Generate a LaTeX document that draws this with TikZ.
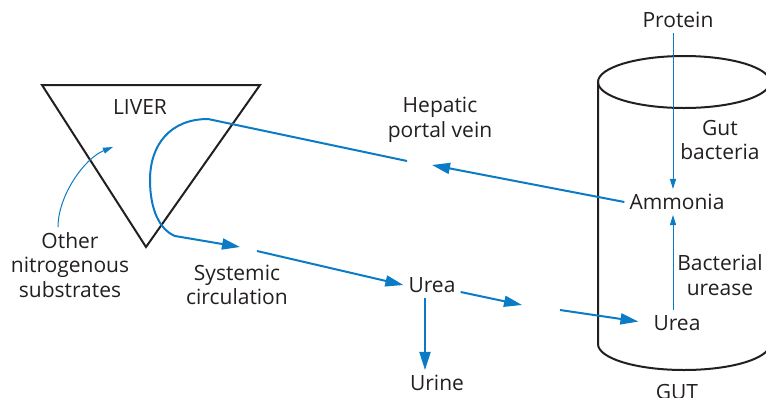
\documentclass[tikz,border=0pt]{standalone}
\usepackage{fontspec}
\setmainfont{Open Sans}
\usetikzlibrary{arrows.meta}
\definecolor{ink}{HTML}{231F20}
\definecolor{flowblue}{HTML}{0A7BC4}
\tikzset{
  txt/.style={font=\fontsize{21}{24.5}\selectfont, text=ink, align=center, inner sep=5pt},
  organ/.style={draw=ink, line width=2pt},
  flow/.style={draw=flowblue, line width=2pt},
  flowarrow/.style={flow, -{Triangle[length=18pt,width=11pt]}},
  thinarrow/.style={draw=flowblue, line width=1pt, -{Triangle[length=10pt,width=6pt]}}
}

\begin{document}
\begin{tikzpicture}[x=1pt,y=-1pt]
\useasboundingbox (0,0) rectangle (766,397);
\clip (0,0) rectangle (766,397);

% organs
\draw[organ] (42,85) -- (260,85) -- (146,247) -- cycle;
\draw[organ] (684,82) ellipse [x radius=86, y radius=26];
\draw[organ] (598,82) -- (598,344) arc [start angle=180, end angle=0, x radius=86, y radius=26] -- (770,82);

% labels
\node[txt] (liver) at (140,107) {LIVER};
\node[txt] (portal) at (440,120) {Hepatic\\portal vein};
\node[txt] (system) at (237,285) {Systemic\\circulation};
\node[txt] (other) at (70,265) {Other\\nitrogenous\\substrates};
\node[txt] (urea) at (432,285) {Urea};
\node[txt] (urine) at (437,383) {Urine};
\node[txt] (protein) at (678,20) {Protein};
\node[txt] (ammonia) at (677,202) {Ammonia};
\node[txt] (bacteria) at (720,140) {Gut\\bacteria};
\node[txt] (urease) at (720,275) {Bacterial\\urease};
\node[txt] (gutUrea) at (677,323) {Urea};
\node[txt] (gut) at (677,392) {GUT};

% gaps in the blood flow
\coordinate (portalIn) at (432,165);
\coordinate (portalOut) at (407,161);
\coordinate (systemIn) at (240,247);
\coordinate (systemOut) at (257,251);
\coordinate (gutIn) at (522,305);
\coordinate (gutOut) at (560,310);
\coordinate (otherIn) at (113,147);

% blood flow
\draw[flowarrow] (ammonia.west) -- (portalIn);
\draw[flowarrow] (portalOut) -- (208,119)
  .. controls (170,119) and (150,145) .. (150,180)
  .. controls (150,210) and (160,230) .. (175,236) -- (systemIn);
\draw[flowarrow] (systemOut) -- (urea.west);
\draw[flowarrow] ([yshift=-7pt]urea.east) -- (gutIn);
\draw[flowarrow, shorten >=10pt] (gutOut) -- (gutUrea.west);
\draw[flowarrow] ([xshift=-7pt]urea.south) -- ([xshift=-12pt]urine.north);

% gut reactions
\draw[thinarrow] ([xshift=-5pt]protein.south) -- ([xshift=-4pt]ammonia.north);
\draw[thinarrow] ([xshift=-4pt]gutUrea.north) -- ([xshift=-4pt]ammonia.south);
\draw[thinarrow] ([xshift=-12pt]other.north) .. controls (58,195) and (85,158) .. (otherIn);

\end{tikzpicture}
\end{document}
